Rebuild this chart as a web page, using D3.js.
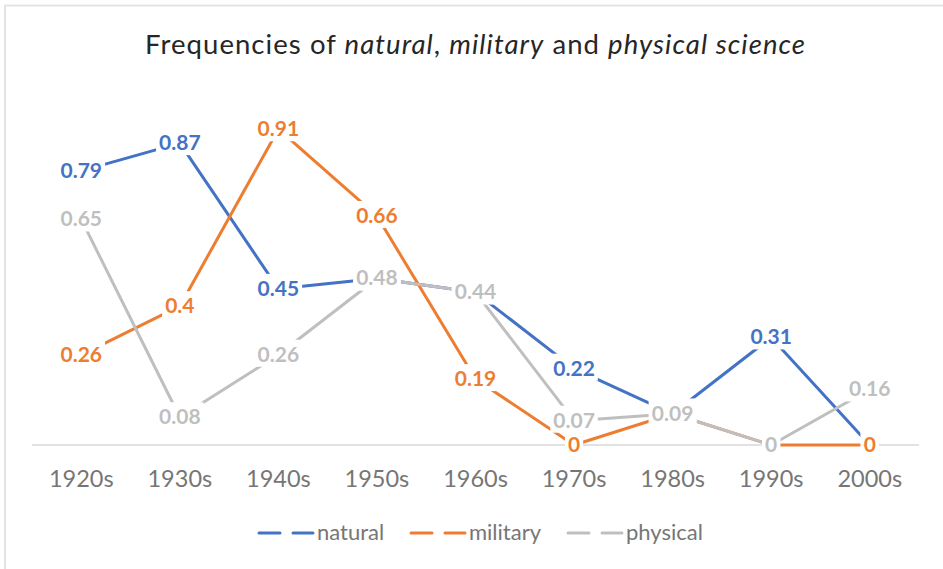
<!DOCTYPE html>
<html><head><meta charset="utf-8">
<script src="https://cdn.jsdelivr.net/npm/d3@7"></script>
<style>body{margin:0;background:#fff}svg{display:block}</style>
</head><body>
<script>
const categories = ["1920s","1930s","1940s","1950s","1960s","1970s","1980s","1990s","2000s"];
const natural  = [0.79, 0.87, 0.45, 0.48, 0.44, 0.22, 0.09, 0.31, 0];
const military = [0.26, 0.40, 0.91, 0.66, 0.19, 0,    0.09, 0,    0];
const physical = [0.65, 0.08, 0.26, 0.48, 0.44, 0.07, 0.09, 0,    0.16];
const seriesNames = ["natural","military","physical"];
const seriesColors = ["#4472C4","#ED7D31","#BFBFBF"];
const series = [natural, military, physical];

const W = 943, H = 569;
const svg = d3.select("body").append("svg").attr("width", W).attr("height", H);
const FONT = "Lato, 'Open Sans', sans-serif";

// border (cropped chart: only top/left visible)
svg.append("line").attr("x1",4).attr("x2",W).attr("y1",5.5).attr("y2",5.5).attr("stroke","#E3E3E3").attr("stroke-width",2);
svg.append("line").attr("x1",5).attr("x2",5).attr("y1",5).attr("y2",H).attr("stroke","#E3E3E3").attr("stroke-width",2);

// title
const title = svg.append("text").attr("x", 475).attr("y", 54).attr("text-anchor","middle")
  .attr("font-family", FONT).attr("font-size", 27.5).attr("fill","#262626")
  .attr("textLength", 660).attr("lengthAdjust", "spacing");
title.append("tspan").text("Frequencies of ");
title.append("tspan").attr("font-style","italic").text("natural");
title.append("tspan").text(", ");
title.append("tspan").attr("font-style","italic").text("military");
title.append("tspan").text(" and ");
title.append("tspan").attr("font-style","italic").text("physical science");

const x = d3.scaleBand().domain(categories).range([32, 919]);
const y = d3.scaleLinear().domain([0, 1]).range([445, 98]);
const cx = c => x(c) + x.bandwidth()/2;

// category axis
svg.append("line").attr("x1", 32).attr("x2", 919).attr("y1", 445).attr("y2", 445)
  .attr("stroke", "#D9D9D9").attr("stroke-width", 1.5);
const xAxis = d3.axisBottom(x).tickSize(0).tickPadding(0);
const gx = svg.append("g").attr("transform","translate(0,445)").call(xAxis);
gx.select(".domain").remove();
gx.selectAll("text").attr("font-family", FONT).attr("font-size", 23.5).attr("fill","#767676")
  .attr("dy", null).attr("y", 42);

// lines
const line = d3.line().x((d,i) => cx(categories[i])).y(d => y(d));
series.forEach((s, k) => {
  svg.append("path").datum(s).attr("d", line).attr("fill","none")
    .attr("stroke", seriesColors[k]).attr("stroke-width", 3).attr("stroke-linejoin","round");
});

// labels with white backgrounds
series.forEach((s, k) => {
  const g = svg.append("g");
  s.forEach((v, i) => {
    const lg = g.append("g");
    const t = lg.append("text").attr("x", cx(categories[i])).attr("y", y(v) + 7)
      .attr("text-anchor","middle").attr("font-family", FONT).attr("font-weight","bold")
      .attr("font-size", 21).attr("fill", seriesColors[k]).text(String(v));
    const b = t.node().getBBox();
    lg.insert("rect","text").attr("x", b.x - 3).attr("y", b.y - 1).attr("width", b.width + 6)
      .attr("height", b.height + 2).attr("fill","#fff");
  });
});

// legend
const legendItems = [
  {sym: 259, txt: 317},
  {sym: 411, txt: 469},
  {sym: 568, txt: 626}
];
seriesNames.forEach((name, k) => {
  const L = legendItems[k];
  const ly = 533;
  svg.append("line").attr("x1", L.sym).attr("x2", L.sym + 21).attr("y1", ly).attr("y2", ly)
    .attr("stroke", seriesColors[k]).attr("stroke-width", 3).attr("stroke-linecap","round");
  svg.append("line").attr("x1", L.sym + 34).attr("x2", L.sym + 54).attr("y1", ly).attr("y2", ly)
    .attr("stroke", seriesColors[k]).attr("stroke-width", 3).attr("stroke-linecap","round");
  svg.append("text").attr("x", L.txt).attr("y", ly + 7).attr("font-family", FONT)
    .attr("font-size", 22).attr("fill","#767676").text(name);
});
</script>
</body></html>
